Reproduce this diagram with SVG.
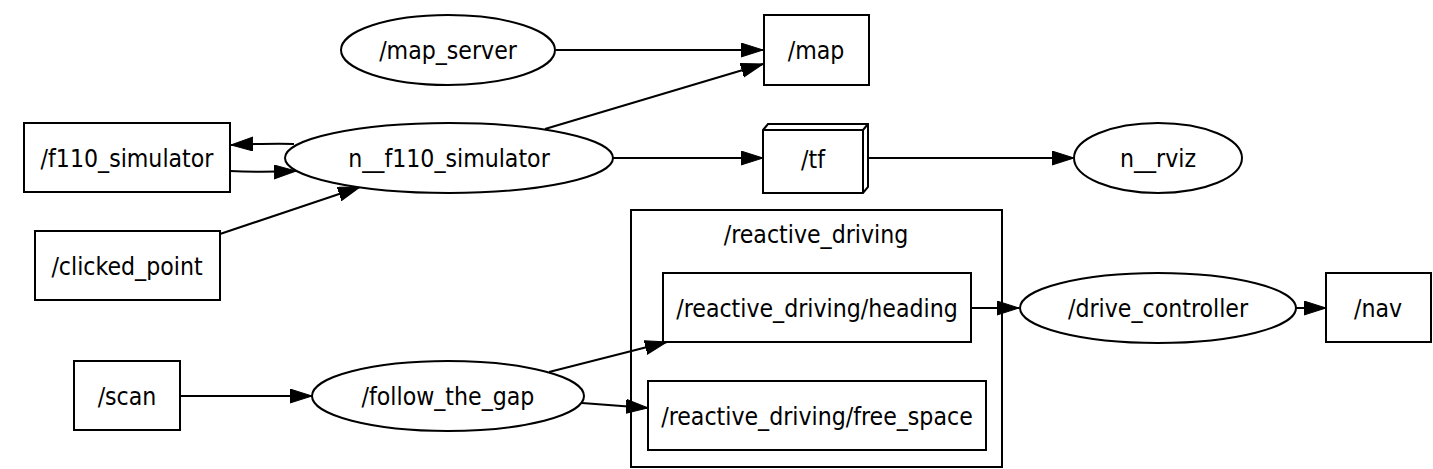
<svg xmlns="http://www.w3.org/2000/svg" width="1433" height="469" viewBox="0 0 1433 469">
<style>
.n{fill:#fff;stroke:#000;stroke-width:2}
.c{fill:none;stroke:#000;stroke-width:2}
.e{fill:none;stroke:#000;stroke-width:2;marker-end:url(#ah)}
text{font-family:"DejaVu Sans Condensed","DejaVu Sans",sans-serif;font-stretch:condensed;font-size:24.6px;text-anchor:middle;fill:#000}
</style>
<defs>
<marker id="ah" markerUnits="userSpaceOnUse" markerWidth="24" markerHeight="16" refX="22" refY="7" orient="auto">
<path d="M0,0 L22,7 L0,14 Z" fill="#000" stroke="#000" stroke-width="1"/>
</marker>
</defs>
<rect width="1433" height="469" fill="#fff"/>
<g id="cluster_reactive_driving">
<rect class="c" x="631" y="210" width="371" height="257"/>
<text x="816" y="243">/reactive_driving</text>
</g>
<g id="connectors">
<path class="e" d="M556,50 L763,50"/>
<path class="e" d="M545,129 L763,64"/>
<path class="e" d="M294,144 C275,143 255,144 231,145"/>
<path class="e" d="M230,171 C250,172 272,172 296,171"/>
<path class="e" d="M220,234 L360,187"/>
<path class="e" d="M612,158 L763,158"/>
<path class="e" d="M869,158 L1074,158"/>
<path class="e" d="M180,396 L312,396"/>
<path class="e" d="M549,372 L667,342"/>
<path class="e" d="M582,403 L648,408"/>
<path class="e" d="M971,308 L1019,308"/>
<path class="e" d="M1296,308 L1326,308"/>
</g>
<g id="map_server">
<ellipse class="n" cx="448" cy="50" rx="107" ry="35"/>
<text x="448" y="59">/map_server</text>
</g>
<g id="map">
<rect class="n" x="764" y="15" width="105" height="70"/>
<text x="816" y="59">/map</text>
</g>
<g id="f110_simulator">
<rect class="n" x="24" y="123" width="206" height="69"/>
<text x="127" y="167">/f110_simulator</text>
</g>
<g id="n_f110_simulator">
<ellipse class="n" cx="449" cy="158" rx="164" ry="35"/>
<text x="449" y="167">n__f110_simulator</text>
</g>
<g id="clicked_point">
<rect class="n" x="35" y="231" width="185" height="69"/>
<text x="127" y="275">/clicked_point</text>
</g>
<g id="tf">
<path class="n" d="M763,130 L768,124 L868,124 L868,187 L863,193 L763,193 Z"/>
<path class="c" d="M763,130 L863,130 L863,193 M863,130 L868,124"/>
<text x="813" y="168">/tf</text>
</g>
<g id="n_rviz">
<ellipse class="n" cx="1158" cy="158" rx="84" ry="35"/>
<text x="1158" y="167">n__rviz</text>
</g>
<g id="reactive_driving_heading">
<rect class="n" x="663" y="273" width="308" height="69"/>
<text x="817" y="317">/reactive_driving/heading</text>
</g>
<g id="reactive_driving_free_space">
<rect class="n" x="648" y="381" width="338" height="69"/>
<text x="817" y="425">/reactive_driving/free_space</text>
</g>
<g id="drive_controller">
<ellipse class="n" cx="1158" cy="308" rx="138" ry="35"/>
<text x="1158" y="317">/drive_controller</text>
</g>
<g id="nav">
<rect class="n" x="1326" y="273" width="105" height="69"/>
<text x="1378" y="317">/nav</text>
</g>
<g id="scan">
<rect class="n" x="74" y="361" width="106" height="69"/>
<text x="127" y="405">/scan</text>
</g>
<g id="follow_the_gap">
<ellipse class="n" cx="448" cy="396" rx="136" ry="35"/>
<text x="448" y="405">/follow_the_gap</text>
</g>
</svg>
